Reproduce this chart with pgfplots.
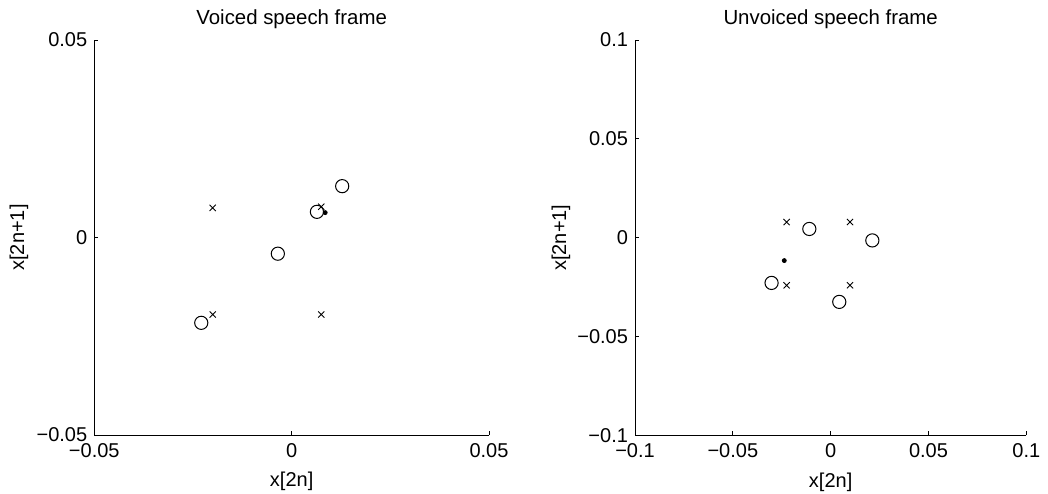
\documentclass[border=0pt]{standalone}
\usepackage{fontspec}
\setmainfont{Liberation Sans}
\usepackage{pgfplots}
\pgfplotsset{compat=1.18}

% 1 px of the reference = 0.5pt
\pgfplotsset{
 mlab/.style={
  scale only axis,
  scaled ticks=false,
  axis x line*=bottom, axis y line*=left,
  axis line style={black,line width=0.5pt},
  tick align=inside, major tick length=2pt,
  tick style={black,line width=0.5pt},
  tick label style={font=\fontsize{10}{12}\selectfont},
  xticklabel style={yshift=-0.5pt},
  label style={font=\fontsize{10}{12}\selectfont},
  every axis title/.style={at={(0.5,1.01)},anchor=south,font=\fontsize{10.2}{12}\selectfont},
  xlabel style={at={(axis description cs:0.5,-0.118)},anchor=center},
  ylabel style={anchor=center,rotate=0},
  clip=false,
 },
 xmk/.style={only marks,mark=x,mark size=2.2pt,mark options={line width=0.45pt,black}},
 omk/.style={only marks,mark=o,mark size=3.3pt,mark options={line width=0.5pt,black}},
 dmk/.style={only marks,mark=*,mark size=1pt,mark options={black,fill=black}},
}

\begin{document}
\begin{tikzpicture}
\useasboundingbox (0,0) rectangle (524pt,246.5pt);

\begin{axis}[mlab,
 at={(47.15pt,29pt)},anchor=south west,
 width=197.35pt,height=197.5pt,
 xmin=-0.05,xmax=0.05,ymin=-0.05,ymax=0.05,
 xtick={-0.05,0,0.05},xticklabels={\mbox{−0.05},\mbox{0},\mbox{0.05}},
 ytick={-0.05,0,0.05},yticklabels={\mbox{−0.05},\mbox{0},\mbox{0.05}},
 title={Voiced speech frame},
 xlabel={x[2n]},ylabel={x[2n+1]},
 ylabel style={at={(axis description cs:-0.191,0.5)}},
]
\addplot[xmk] coordinates {(-0.02,0.0075) (0.0075,0.0078) (-0.02,-0.0195) (0.0075,-0.0195)};
\addplot[omk] coordinates {(0.0128,0.0130) (0.0064,0.0065) (-0.0035,-0.0041) (-0.0229,-0.0216)};
\addplot[dmk] coordinates {(0.0085,0.0063)};
\end{axis}

\begin{axis}[mlab,
 at={(317.5pt,28.85pt)},anchor=south west,
 width=195.65pt,height=197.65pt,
 xmin=-0.1,xmax=0.1,ymin=-0.1,ymax=0.1,
 xtick={-0.1,-0.05,0,0.05,0.1},xticklabels={\mbox{−0.1},\mbox{−0.05},\mbox{0},\mbox{0.05},\mbox{0.1}},
 ytick={-0.1,-0.05,0,0.05,0.1},yticklabels={\mbox{−0.1},\mbox{−0.05},\mbox{0},\mbox{0.05},\mbox{0.1}},
 title={Unvoiced speech frame},
 xlabel={x[2n]},ylabel={x[2n+1]},
 ylabel style={at={(axis description cs:-0.189,0.5)}},
]
\addplot[xmk] coordinates {(-0.0225,0.0079) (0.0099,0.0079) (-0.0225,-0.0241) (0.0099,-0.0241)};
\addplot[omk] coordinates {(-0.0109,0.0044) (0.0213,-0.0014) (-0.0302,-0.0229) (0.0044,-0.0325)};
\addplot[dmk] coordinates {(-0.0237,-0.0116)};
\end{axis}
\end{tikzpicture}
\end{document}
